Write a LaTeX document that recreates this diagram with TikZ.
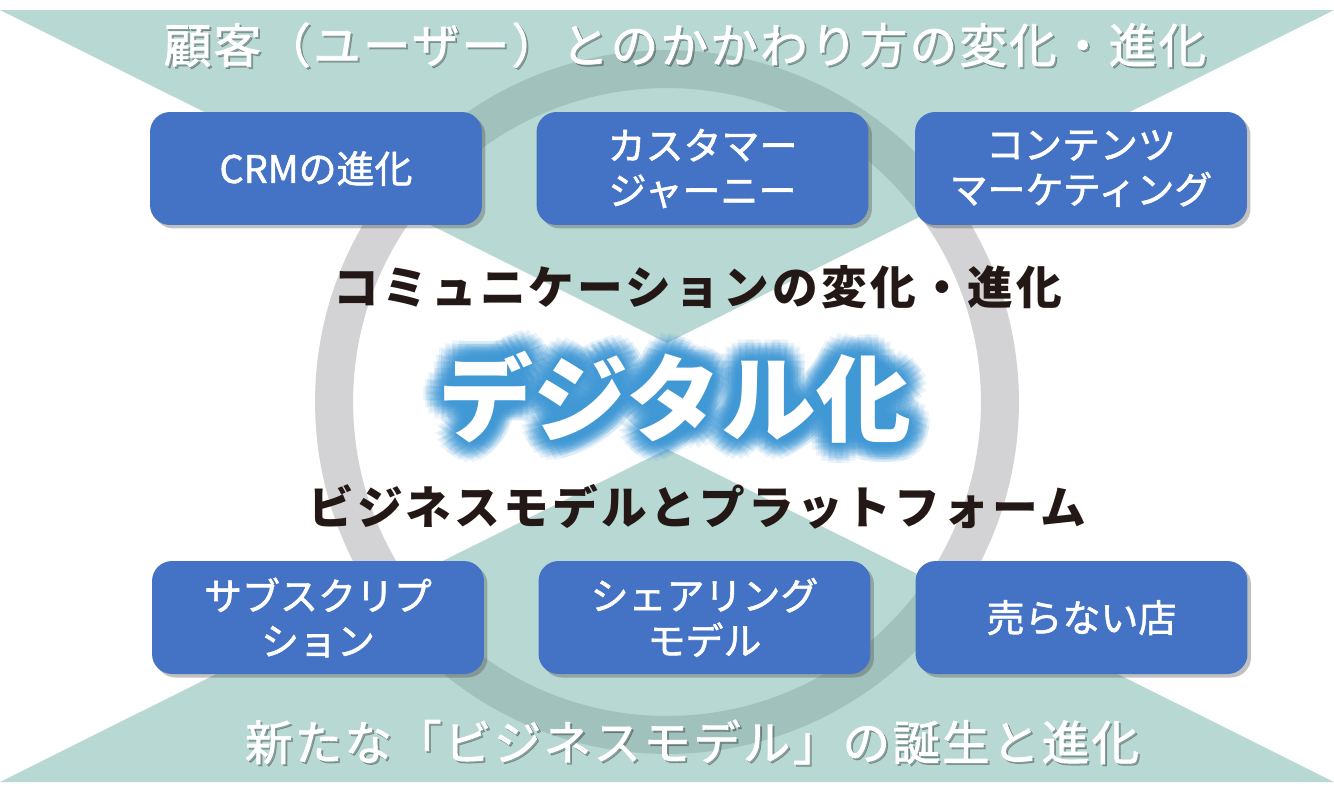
\documentclass[tikz,border=0pt]{standalone}
\usepackage{fontspec}
\setmainfont{Noto Sans CJK JP}
\usepackage{tikz}
\usetikzlibrary{shadows}
\definecolor{wedgeteal}{HTML}{71B1A7}
\definecolor{ringgray}{HTML}{D3D3D5}
\definecolor{tileblue}{HTML}{4472C4}
\definecolor{glowblue}{HTML}{3D96D4}
\definecolor{ink}{HTML}{231815}
\tikzset{
  wedge/.style={fill=wedgeteal, fill opacity=0.5},
  ring/.style={draw=ringgray, line width=0.76cm},
  tilebox/.style={fill=tileblue, rounded corners=0.4cm, minimum width=6.64cm,
    minimum height=2.26cm, text=white, align=center, inner sep=0pt,
    font=\fontsize{21.6}{25.6}\selectfont\addfontfeature{FakeBold=1.5},
    drop shadow={shadow xshift=0.07cm, shadow yshift=-0.07cm, opacity=0.35, fill=black!70}},
  head/.style={text=white, inner sep=0pt,
    font=\fontsize{27}{32}\selectfont\addfontfeature{LetterSpace=5,FakeBold=1.5}},
  headsh/.style={head, text=black, text opacity=0.25},
  mid/.style={text=ink, inner sep=0pt,
    font=\bfseries\fontsize{26}{30}\selectfont\addfontfeature{LetterSpace=7}},
  big/.style={text=white, inner sep=0pt, font=\bfseries\fontsize{54}{60}\selectfont},
  halo/.style={big, text=glowblue, text opacity=0.1},
}
\begin{document}
\begin{tikzpicture}[x=0.02cm,y=-0.02cm]
  \useasboundingbox (0,0) rectangle (1334,809);
  % ring behind the two wedges
  \draw[ring] (667,402) circle (6.66cm);
  \fill[wedge] (0,10) -- (1334,10) -- (667,343) -- cycle;
  \fill[wedge] (0,782) -- (1334,782) -- (667,449) -- cycle;
  % headings
  \node[headsh] (top-sh) at (687,47) {顧客（ユーザー）とのかかわり方の変化・進化};
  \node[head] (top) at (685,45) {顧客（ユーザー）とのかかわり方の変化・進化};
  \node[headsh] (bot-sh) at (694,744) {新たな「ビジネスモデル」の誕生と進化};
  \node[head] (bot) at (692,742) {新たな「ビジネスモデル」の誕生と進化};
  % top row
  \node[tilebox] (crm) at (316,168.5) {CRMの進化};
  \node[tilebox] (journey) at (702.5,168.5) {カスタマー\\ジャーニー};
  \node[tilebox] (content) at (1081,168.5) {コンテンツ\\マーケティング};
  \node[mid] (comm) at (698,287) {コミュニケーションの変化・進化};
  % centre
  \foreach \a in {0,20,...,340}
    \foreach \r [count=\i] in {0.06cm,0.12cm,0.18cm,0.24cm,0.30cm,0.36cm,0.42cm}
      \node[halo, shift={(\a:\r)}] (glow-\a-\i) at (675,397) {デジタル化};
  \node[big] (digital) at (675,397) {デジタル化};
  \node[mid] (biz) at (697,507) {ビジネスモデルとプラットフォーム};
  % bottom row
  \node[tilebox] (subs) at (318,617.5) {サブスクリプ\\ション};
  \node[tilebox] (share) at (704.5,617.5) {シェアリング\\モデル};
  \node[tilebox] (shop) at (1081.5,617.5) {売らない店};
\end{tikzpicture}
\end{document}
